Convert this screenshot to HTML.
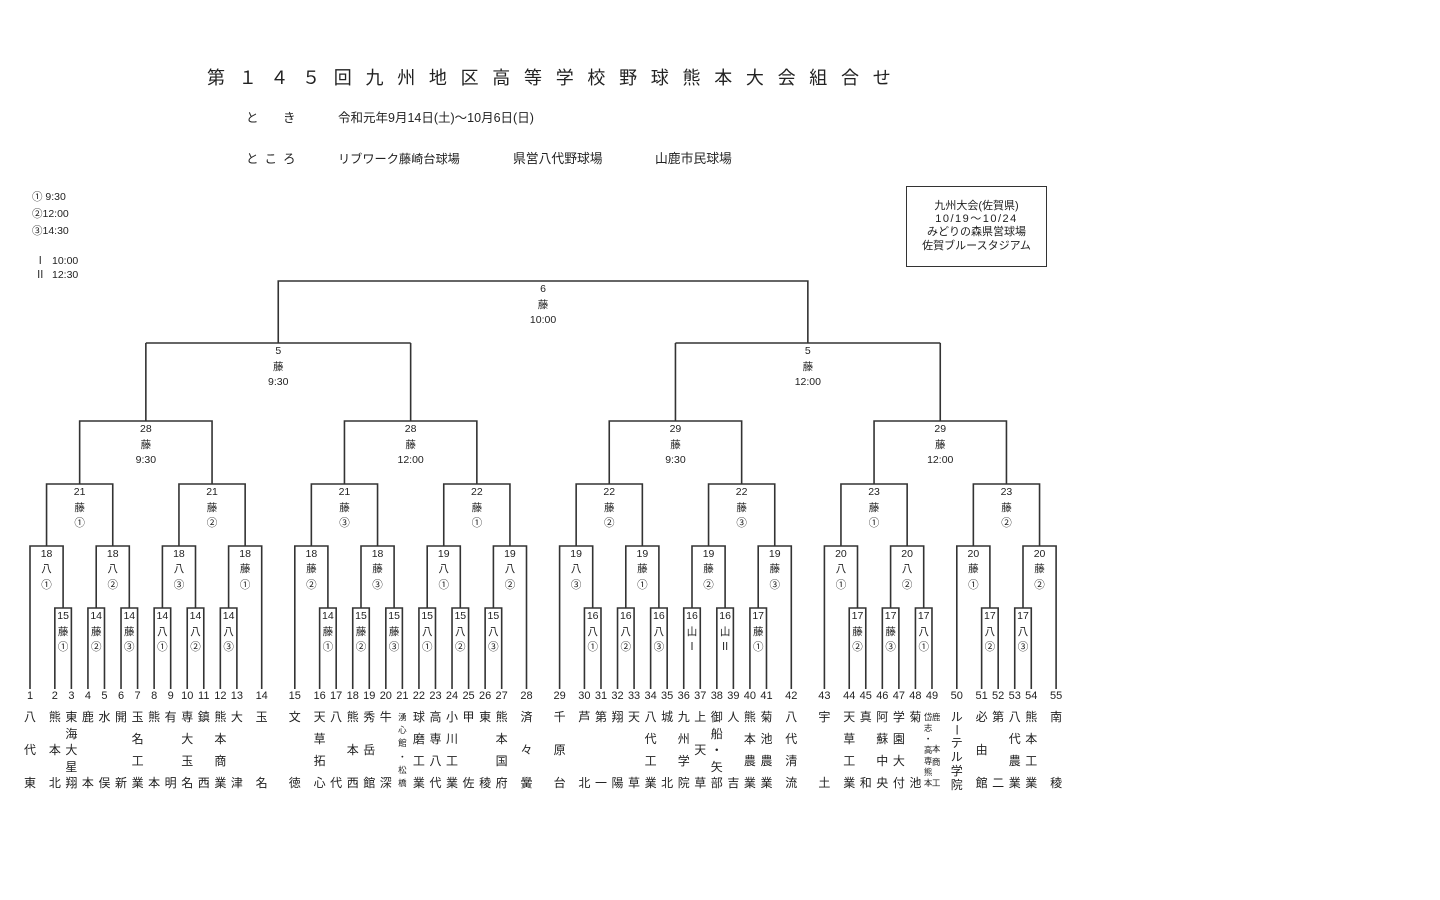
<!DOCTYPE html>
<html><head><meta charset="utf-8">
<style>
body{margin:0;background:#fff;}
#w{position:relative;width:1440px;height:900px;overflow:hidden;background:#fff;font-family:"Liberation Sans","Noto Sans CJK JP",sans-serif;color:#222;}
.q{position:absolute;top:0;width:0;height:0;}
.l{position:absolute;width:44px;margin-left:-22px;text-align:center;font-size:10.5px;line-height:15.7px;white-space:nowrap;}
.r1{top:546.5px}.r2{top:609px}.r3{top:485px}.r4{top:422px}
.t{position:absolute;top:689px;width:24px;margin-left:-12px;text-align:center;font-size:11px;line-height:14px;}
.n{position:absolute;top:710px;height:80px;width:16px;margin-left:-8px;display:flex;flex-direction:column;justify-content:space-between;align-items:center;font-size:12px;line-height:14px;}
.n i{font-style:normal;display:block;}
.n.s{font-size:8.5px;line-height:10px;top:712px;height:76px;width:10px;margin-left:-5px;}
.v{writing-mode:vertical-rl;}
.a{position:absolute;white-space:nowrap;}
.sp{position:absolute;font-size:8.5px;line-height:10px;width:10px;margin-left:-5px;text-align:center;}
</style></head>
<body><div id="w">

<div class="a" style="left:207px;top:67px;font-size:18px;line-height:22px;letter-spacing:13.7px;">第１４５回九州地区高等学校野球熊本大会組合せ</div>

<div class="a" style="left:246px;top:110px;font-size:12.5px;line-height:16px;">と</div>
<div class="a" style="left:283px;top:110px;font-size:12.5px;line-height:16px;">き</div>
<div class="a" style="left:338px;top:110px;font-size:12.5px;line-height:16px;">令和元年9月14日(土)～10月6日(日)</div>

<div class="a" style="left:246px;top:151px;font-size:12.5px;line-height:16px;letter-spacing:6px;">ところ</div>
<div class="a" style="left:338px;top:151px;font-size:12.2px;line-height:16px;">リブワーク藤崎台球場</div>
<div class="a" style="left:513px;top:151px;font-size:12.8px;line-height:16px;">県営八代野球場</div>
<div class="a" style="left:655px;top:151px;font-size:12.8px;line-height:16px;">山鹿市民球場</div>

<div class="a" style="left:32px;top:190px;font-size:10.5px;line-height:14px;">① 9:30</div>
<div class="a" style="left:32px;top:207px;font-size:10.5px;line-height:14px;">②12:00</div>
<div class="a" style="left:32px;top:224px;font-size:10.5px;line-height:14px;">③14:30</div>
<div class="a" style="left:35px;top:254px;font-size:10.5px;line-height:14px;">Ⅰ</div>
<div class="a" style="left:52px;top:254px;font-size:10.5px;line-height:14px;">10:00</div>
<div class="a" style="left:35px;top:268px;font-size:10.5px;line-height:14px;">Ⅱ</div>
<div class="a" style="left:52px;top:268px;font-size:10.5px;line-height:14px;">12:30</div>

<div class="a" style="left:906px;top:186px;width:141px;height:81px;box-sizing:border-box;border:1px solid #333;text-align:center;font-size:11px;line-height:13.4px;padding-top:12.5px;">九州大会(佐賀県)<br><span style="letter-spacing:1.5px">10/19～10/24</span><br>みどりの森県営球場<br>佐賀ブルースタジアム</div>

<svg width="1440" height="900" style="position:absolute;left:0;top:0" fill="none" stroke="#333" stroke-width="1.6">
<path d="M145.85 343H410.65M278.25 343V281H807.85V343M675.45 343H940.25"/>
<g transform="translate(30 0)"><path d="M24.83 689V608H41.38V689M57.93 689V608H74.48V689M91.03 689V608H107.58V689M124.13 689V608H140.68V689M157.23 689V608H173.78V689M190.33 689V608H206.88V689M0 689V546H33.1V608M66.2 608V546H99.3V608M132.4 608V546H165.5V608M198.6 608V546H231.7V689M16.55 546V484H82.75V546M148.95 546V484H215.15V546M49.65 484V421H182.05V484M115.85 421V343"/></g>
<g transform="translate(294.8 0)"><path d="M24.83 689V608H41.38V689M57.93 689V608H74.48V689M91.03 689V608H107.58V689M124.13 689V608H140.68V689M157.23 689V608H173.78V689M190.33 689V608H206.88V689M0 689V546H33.1V608M66.2 608V546H99.3V608M132.4 608V546H165.5V608M198.6 608V546H231.7V689M16.55 546V484H82.75V546M148.95 546V484H215.15V546M49.65 484V421H182.05V484M115.85 421V343"/></g>
<g transform="translate(559.6 0)"><path d="M24.83 689V608H41.38V689M57.93 689V608H74.48V689M91.03 689V608H107.58V689M124.13 689V608H140.68V689M157.23 689V608H173.78V689M190.33 689V608H206.88V689M0 689V546H33.1V608M66.2 608V546H99.3V608M132.4 608V546H165.5V608M198.6 608V546H231.7V689M16.55 546V484H82.75V546M148.95 546V484H215.15V546M49.65 484V421H182.05V484M115.85 421V343"/></g>
<g transform="translate(824.4 0)"><path d="M24.83 689V608H41.38V689M57.93 689V608H74.48V689M91.03 689V608H107.58V689M157.23 689V608H173.78V689M190.33 689V608H206.88V689M0 689V546H33.1V608M66.2 608V546H99.3V608M132.4 689V546H165.5V608M198.6 608V546H231.7V689M16.55 546V484H82.75V546M148.95 546V484H215.15V546M49.65 484V421H182.05V484M115.85 421V343"/></g>
</svg>

<!-- top labels -->
<div class="l" style="left:543.05px;top:282px">6<br>藤<br>10:00</div>
<div class="l" style="left:278.25px;top:344px">5<br>藤<br>9:30</div>
<div class="l" style="left:807.85px;top:344px">5<br>藤<br>12:00</div>

<!-- Quarter 1 -->
<div class="q" style="left:30px">
<div class="l r4" style="left:115.85px">28<br>藤<br>9:30</div>
<div class="l r3" style="left:49.65px">21<br>藤<br>①</div>
<div class="l r3" style="left:182.05px">21<br>藤<br>②</div>
<div class="l r1" style="left:16.55px">18<br>八<br>①</div>
<div class="l r1" style="left:82.75px">18<br>八<br>②</div>
<div class="l r1" style="left:148.95px">18<br>八<br>③</div>
<div class="l r1" style="left:215.15px">18<br>藤<br>①</div>
<div class="l r2" style="left:33.1px">15<br>藤<br>①</div>
<div class="l r2" style="left:66.2px">14<br>藤<br>②</div>
<div class="l r2" style="left:99.3px">14<br>藤<br>③</div>
<div class="l r2" style="left:132.4px">14<br>八<br>①</div>
<div class="l r2" style="left:165.5px">14<br>八<br>②</div>
<div class="l r2" style="left:198.6px">14<br>八<br>③</div>
<div class="t" style="left:0px">1</div>
<div class="t" style="left:24.83px">2</div>
<div class="t" style="left:41.38px">3</div>
<div class="t" style="left:57.93px">4</div>
<div class="t" style="left:74.48px">5</div>
<div class="t" style="left:91.03px">6</div>
<div class="t" style="left:107.58px">7</div>
<div class="t" style="left:124.13px">8</div>
<div class="t" style="left:140.68px">9</div>
<div class="t" style="left:157.23px">10</div>
<div class="t" style="left:173.78px">11</div>
<div class="t" style="left:190.33px">12</div>
<div class="t" style="left:206.88px">13</div>
<div class="t" style="left:231.7px">14</div>
<div class="n" style="left:0px"><i>八</i><i>代</i><i>東</i></div>
<div class="n" style="left:24.83px"><i>熊</i><i>本</i><i>北</i></div>
<div class="n" style="left:41.38px"><i>東</i><i>海</i><i>大</i><i>星</i><i>翔</i></div>
<div class="n" style="left:57.93px"><i>鹿</i><i>本</i></div>
<div class="n" style="left:74.48px"><i>水</i><i>俣</i></div>
<div class="n" style="left:91.03px"><i>開</i><i>新</i></div>
<div class="n" style="left:107.58px"><i>玉</i><i>名</i><i>工</i><i>業</i></div>
<div class="n" style="left:124.13px"><i>熊</i><i>本</i></div>
<div class="n" style="left:140.68px"><i>有</i><i>明</i></div>
<div class="n" style="left:157.23px"><i>専</i><i>大</i><i>玉</i><i>名</i></div>
<div class="n" style="left:173.78px"><i>鎮</i><i>西</i></div>
<div class="n" style="left:190.33px"><i>熊</i><i>本</i><i>商</i><i>業</i></div>
<div class="n" style="left:206.88px"><i>大</i><i>津</i></div>
<div class="n" style="left:231.7px"><i>玉</i><i>名</i></div>
</div>

<!-- Quarter 2 -->
<div class="q" style="left:294.8px">
<div class="l r4" style="left:115.85px">28<br>藤<br>12:00</div>
<div class="l r3" style="left:49.65px">21<br>藤<br>③</div>
<div class="l r3" style="left:182.05px">22<br>藤<br>①</div>
<div class="l r1" style="left:16.55px">18<br>藤<br>②</div>
<div class="l r1" style="left:82.75px">18<br>藤<br>③</div>
<div class="l r1" style="left:148.95px">19<br>八<br>①</div>
<div class="l r1" style="left:215.15px">19<br>八<br>②</div>
<div class="l r2" style="left:33.1px">14<br>藤<br>①</div>
<div class="l r2" style="left:66.2px">15<br>藤<br>②</div>
<div class="l r2" style="left:99.3px">15<br>藤<br>③</div>
<div class="l r2" style="left:132.4px">15<br>八<br>①</div>
<div class="l r2" style="left:165.5px">15<br>八<br>②</div>
<div class="l r2" style="left:198.6px">15<br>八<br>③</div>
<div class="t" style="left:0px">15</div>
<div class="t" style="left:24.83px">16</div>
<div class="t" style="left:41.38px">17</div>
<div class="t" style="left:57.93px">18</div>
<div class="t" style="left:74.48px">19</div>
<div class="t" style="left:91.03px">20</div>
<div class="t" style="left:107.58px">21</div>
<div class="t" style="left:124.13px">22</div>
<div class="t" style="left:140.68px">23</div>
<div class="t" style="left:157.23px">24</div>
<div class="t" style="left:173.78px">25</div>
<div class="t" style="left:190.33px">26</div>
<div class="t" style="left:206.88px">27</div>
<div class="t" style="left:231.7px">28</div>
<div class="n" style="left:0px"><i>文</i><i>徳</i></div>
<div class="n" style="left:24.83px"><i>天</i><i>草</i><i>拓</i><i>心</i></div>
<div class="n" style="left:41.38px"><i>八</i><i>代</i></div>
<div class="n" style="left:57.93px"><i>熊</i><i>本</i><i>西</i></div>
<div class="n" style="left:74.48px"><i>秀</i><i>岳</i><i>館</i></div>
<div class="n" style="left:91.03px"><i>牛</i><i>深</i></div>
<div class="n s" style="left:107.58px"><i>湧</i><i>心</i><i>館</i><i>・</i><i>松</i><i>橋</i></div>
<div class="n" style="left:124.13px"><i>球</i><i>磨</i><i>工</i><i>業</i></div>
<div class="n" style="left:140.68px"><i>高</i><i>専</i><i>八</i><i>代</i></div>
<div class="n" style="left:157.23px"><i>小</i><i>川</i><i>工</i><i>業</i></div>
<div class="n" style="left:173.78px"><i>甲</i><i>佐</i></div>
<div class="n" style="left:190.33px"><i>東</i><i>稜</i></div>
<div class="n" style="left:206.88px"><i>熊</i><i>本</i><i>国</i><i>府</i></div>
<div class="n" style="left:231.7px"><i>済</i><i>々</i><i>黌</i></div>
</div>

<!-- Quarter 3 -->
<div class="q" style="left:559.6px">
<div class="l r4" style="left:115.85px">29<br>藤<br>9:30</div>
<div class="l r3" style="left:49.65px">22<br>藤<br>②</div>
<div class="l r3" style="left:182.05px">22<br>藤<br>③</div>
<div class="l r1" style="left:16.55px">19<br>八<br>③</div>
<div class="l r1" style="left:82.75px">19<br>藤<br>①</div>
<div class="l r1" style="left:148.95px">19<br>藤<br>②</div>
<div class="l r1" style="left:215.15px">19<br>藤<br>③</div>
<div class="l r2" style="left:33.1px">16<br>八<br>①</div>
<div class="l r2" style="left:66.2px">16<br>八<br>②</div>
<div class="l r2" style="left:99.3px">16<br>八<br>③</div>
<div class="l r2" style="left:132.4px">16<br>山<br>Ⅰ</div>
<div class="l r2" style="left:165.5px">16<br>山<br>Ⅱ</div>
<div class="l r2" style="left:198.6px">17<br>藤<br>①</div>
<div class="t" style="left:0px">29</div>
<div class="t" style="left:24.83px">30</div>
<div class="t" style="left:41.38px">31</div>
<div class="t" style="left:57.93px">32</div>
<div class="t" style="left:74.48px">33</div>
<div class="t" style="left:91.03px">34</div>
<div class="t" style="left:107.58px">35</div>
<div class="t" style="left:124.13px">36</div>
<div class="t" style="left:140.68px">37</div>
<div class="t" style="left:157.23px">38</div>
<div class="t" style="left:173.78px">39</div>
<div class="t" style="left:190.33px">40</div>
<div class="t" style="left:206.88px">41</div>
<div class="t" style="left:231.7px">42</div>
<div class="n" style="left:0px"><i>千</i><i>原</i><i>台</i></div>
<div class="n" style="left:24.83px"><i>芦</i><i>北</i></div>
<div class="n" style="left:41.38px"><i>第</i><i>一</i></div>
<div class="n" style="left:57.93px"><i>翔</i><i>陽</i></div>
<div class="n" style="left:74.48px"><i>天</i><i>草</i></div>
<div class="n" style="left:91.03px"><i>八</i><i>代</i><i>工</i><i>業</i></div>
<div class="n" style="left:107.58px"><i>城</i><i>北</i></div>
<div class="n" style="left:124.13px"><i>九</i><i>州</i><i>学</i><i>院</i></div>
<div class="n" style="left:140.68px"><i>上</i><i>天</i><i>草</i></div>
<div class="n" style="left:157.23px"><i>御</i><i>船</i><i>・</i><i>矢</i><i>部</i></div>
<div class="n" style="left:173.78px"><i>人</i><i>吉</i></div>
<div class="n" style="left:190.33px"><i>熊</i><i>本</i><i>農</i><i>業</i></div>
<div class="n" style="left:206.88px"><i>菊</i><i>池</i><i>農</i><i>業</i></div>
<div class="n" style="left:231.7px"><i>八</i><i>代</i><i>清</i><i>流</i></div>
</div>

<!-- Quarter 4 -->
<div class="q" style="left:824.4px">
<div class="l r4" style="left:115.85px">29<br>藤<br>12:00</div>
<div class="l r3" style="left:49.65px">23<br>藤<br>①</div>
<div class="l r3" style="left:182.05px">23<br>藤<br>②</div>
<div class="l r1" style="left:16.55px">20<br>八<br>①</div>
<div class="l r1" style="left:82.75px">20<br>八<br>②</div>
<div class="l r1" style="left:148.95px">20<br>藤<br>①</div>
<div class="l r1" style="left:215.15px">20<br>藤<br>②</div>
<div class="l r2" style="left:33.1px">17<br>藤<br>②</div>
<div class="l r2" style="left:66.2px">17<br>藤<br>③</div>
<div class="l r2" style="left:99.3px">17<br>八<br>①</div>
<div class="l r2" style="left:165.5px">17<br>八<br>②</div>
<div class="l r2" style="left:198.6px">17<br>八<br>③</div>
<div class="t" style="left:0px">43</div>
<div class="t" style="left:24.83px">44</div>
<div class="t" style="left:41.38px">45</div>
<div class="t" style="left:57.93px">46</div>
<div class="t" style="left:74.48px">47</div>
<div class="t" style="left:91.03px">48</div>
<div class="t" style="left:107.58px">49</div>
<div class="t" style="left:132.4px">50</div>
<div class="t" style="left:157.23px">51</div>
<div class="t" style="left:173.78px">52</div>
<div class="t" style="left:190.33px">53</div>
<div class="t" style="left:206.88px">54</div>
<div class="t" style="left:231.7px">55</div>
<div class="n" style="left:0px"><i>宇</i><i>土</i></div>
<div class="n" style="left:24.83px"><i>天</i><i>草</i><i>工</i><i>業</i></div>
<div class="n" style="left:41.38px"><i>真</i><i>和</i></div>
<div class="n" style="left:57.93px"><i>阿</i><i>蘇</i><i>中</i><i>央</i></div>
<div class="n" style="left:74.48px"><i>学</i><i>園</i><i>大</i><i>付</i></div>
<div class="n" style="left:91.03px"><i>菊</i><i>池</i></div>
<div class="n s" style="left:103.8px"><i>岱</i><i>志</i><i>・</i><i>高</i><i>専</i><i>熊</i><i>本</i></div>
<div class="sp" style="left:111.8px;top:712px">鹿</div>
<div class="sp" style="left:111.8px;top:744px">本</div>
<div class="sp" style="left:111.8px;top:757px">商</div>
<div class="sp" style="left:111.8px;top:778px">工</div>
<div class="n" style="left:132.4px"><i>ル</i><i class="v">ー</i><i>テ</i><i>ル</i><i>学</i><i>院</i></div>
<div class="n" style="left:157.23px"><i>必</i><i>由</i><i>館</i></div>
<div class="n" style="left:173.78px"><i>第</i><i>二</i></div>
<div class="n" style="left:190.33px"><i>八</i><i>代</i><i>農</i><i>業</i></div>
<div class="n" style="left:206.88px"><i>熊</i><i>本</i><i>工</i><i>業</i></div>
<div class="n" style="left:231.7px"><i>南</i><i>稜</i></div>
</div>

</div></body></html>
